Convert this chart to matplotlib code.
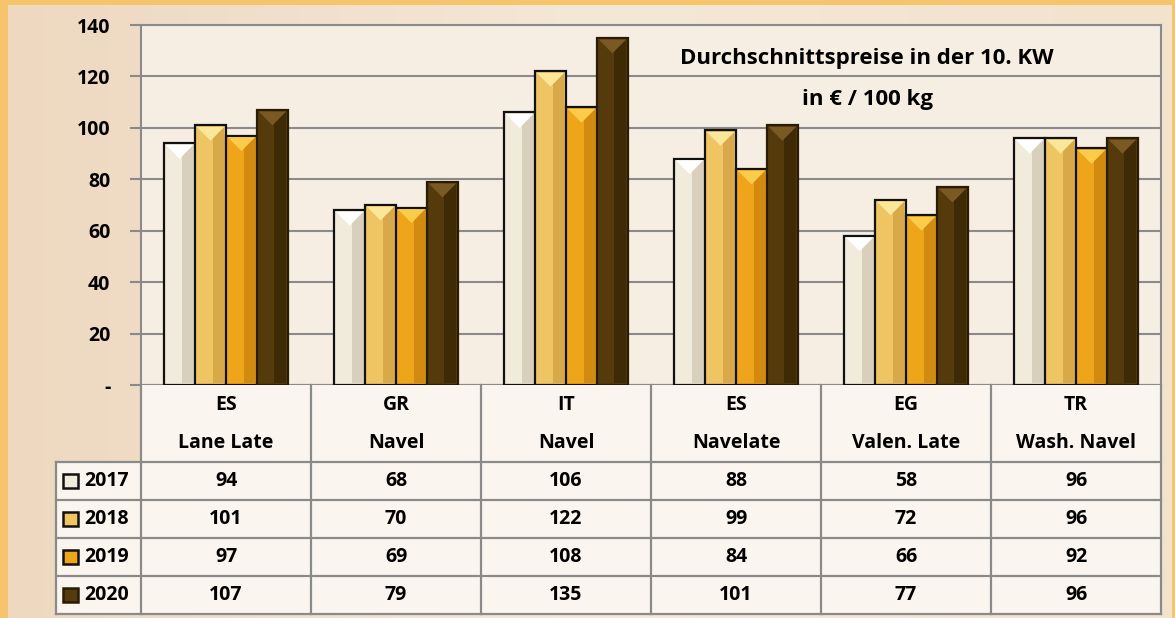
import matplotlib.pyplot as plt
from matplotlib.patches import Rectangle, Polygon
from matplotlib.colors import LinearSegmentedColormap
import numpy as np

# data
countries = ["ES", "GR", "IT", "ES", "EG", "TR"]
varieties = ["Lane Late", "Navel", "Navel", "Navelate", "Valen. Late", "Wash. Navel"]
years = ["2017", "2018", "2019", "2020"]
v2017 = [94, 68, 106, 88, 58, 96]
v2018 = [101, 70, 122, 99, 72, 96]
v2019 = [97, 69, 108, 84, 66, 92]
v2020 = [107, 79, 135, 101, 77, 96]
values = [v2017, v2018, v2019, v2020]

colors = ["#f1ebdb", "#efc462", "#eea51a", "#553a0c"]
tops = ["#ffffff", "#fbe79a", "#fbcc4a", "#7a5a22"]
sides = ["#d9d0bb", "#d9a848", "#d38a10", "#3f2a06"]
edges = ["#111111", "#111111", "#111111", "#2a1c04"]

plt.rcParams["font.family"] = ["Open Sans", "DejaVu Sans"]
plt.rcParams["font.weight"] = "bold"

fig = plt.figure(figsize=(11.75, 6.18), dpi=100)
fig.patch.set_facecolor("#f6c46a")

# inner background panel
bg = fig.add_axes([0.007, 0.0, 0.99, 0.992])
grad = np.linspace(0, 1, 256).reshape(1, -1)
cmap = LinearSegmentedColormap.from_list("bg", ["#eed8c0", "#f4e8d7", "#f2e3cc"])
bg.imshow(grad, aspect="auto", cmap=cmap, extent=[0, 1, 0, 1])
bg.axis("off")

ax = fig.add_axes([141 / 1175, 0.377, 1020 / 1175, 0.5825])
ax.set_facecolor("#f6eee3")
n = len(countries)
x = np.arange(n)
w = 0.182
offsets = (np.arange(4) - 1.5) * w

for i in range(4):
    bars = ax.bar(x + offsets[i], values[i], w, color=colors[i],
                  edgecolor=edges[i], linewidth=1.6, zorder=3)
    for b in bars:
        x0 = b.get_x()
        x1 = x0 + b.get_width()
        h = b.get_height()
        xc = x0 + b.get_width() / 2
        # darker right side
        ax.add_patch(Rectangle((xc + 0.012, 0.6), x1 - xc - 0.025, h - 1.2,
                               facecolor=sides[i], edgecolor="none", zorder=3.5))
        # pyramid top
        ax.add_patch(Polygon([(x0 + 0.01, h - 0.6), (x1 - 0.01, h - 0.6), (xc, h - 6)],
                             closed=True, facecolor=tops[i], edgecolor="none", zorder=4))

ax.set_xlim(-0.5, n - 0.5)
ax.set_ylim(0, 140)
ax.set_yticks(np.arange(0, 141, 20))
ax.set_yticklabels(["-"] + [str(v) for v in range(20, 141, 20)], fontsize=14, fontweight="bold")
ax.set_xticks([])
ax.grid(axis="y", color="#8a8a8a", linewidth=1.5, zorder=1)
ax.tick_params(axis="y", length=8, width=1.5, color="#8a8a8a", pad=14)
for s in ax.spines.values():
    s.set_color("#8a8a8a")
    s.set_linewidth(1.5)

ax.text(0.712, 0.908, "Durchschnittspreise in der 10. KW",
        transform=ax.transAxes, ha="center", va="center", fontsize=16, fontweight="bold")
ax.text(0.712, 0.794, "in € / 100 kg",
        transform=ax.transAxes, ha="center", va="center", fontsize=16, fontweight="bold")

# data table below
tab = fig.add_axes([141 / 1175, 4 / 618, 1020 / 1175, 229 / 618])
tab.set_xlim(-0.5, n - 0.5)
tab.set_ylim(229, 0)
tab.axis("off")
tab.add_patch(Rectangle((-0.5, 0), n, 229, facecolor="#faf5ee", edgecolor="none", zorder=0))
tab.add_patch(Rectangle((-1.0, 77), 0.5, 152, facecolor="#faf5ee", edgecolor="none",
                        zorder=0, clip_on=False))
lc = "#8a8a8a"
for k in range(n + 1):
    tab.plot([k - 0.5, k - 0.5], [0, 229], color=lc, lw=1.6, clip_on=False, zorder=2)
tab.plot([-1.0, -1.0], [77, 229], color=lc, lw=1.6, clip_on=False, zorder=2)
for yy in [77, 115, 153, 191, 229]:
    tab.plot([-1.0, n - 0.5], [yy, yy], color=lc, lw=1.6, clip_on=False, zorder=2)

fs = 14
for j in range(n):
    tab.text(j, 20, countries[j], ha="center", va="center", fontsize=fs, fontweight="bold")
    tab.text(j, 58, varieties[j], ha="center", va="center", fontsize=fs, fontweight="bold")
    for i in range(4):
        tab.text(j, 96 + 38 * i, str(values[i][j]), ha="center", va="center",
                 fontsize=fs, fontweight="bold")

for i in range(4):
    yc = 96 + 38 * i
    tab.add_patch(Rectangle((-0.958, yc - 7), 0.088, 14, facecolor=colors[i],
                            edgecolor=edges[i], lw=1.8, clip_on=False, zorder=3))
    tab.text(-0.835, yc, years[i], ha="left", va="center", fontsize=fs,
             fontweight="bold", clip_on=False)

fig.savefig("out.png", dpi=100, facecolor=fig.get_facecolor())
